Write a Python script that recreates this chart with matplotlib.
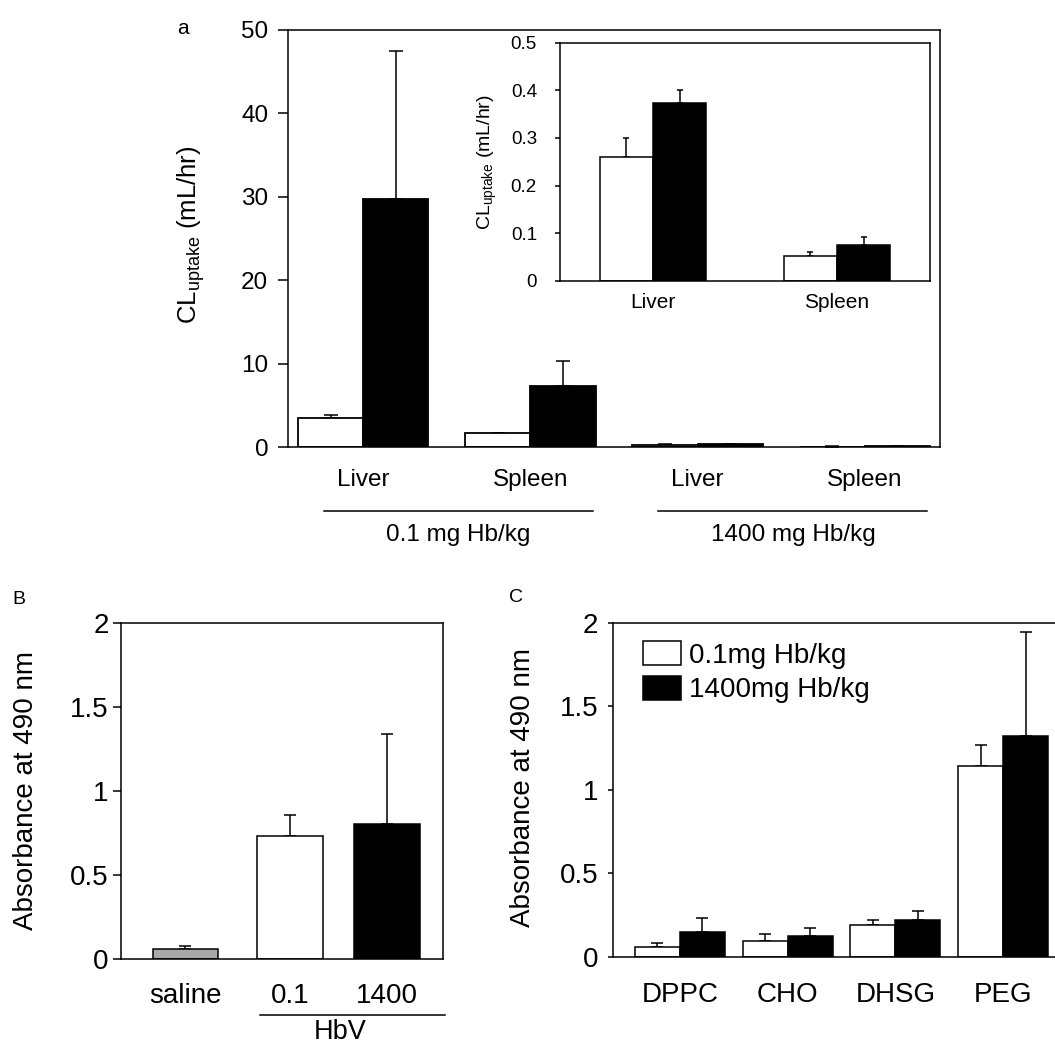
import matplotlib
matplotlib.use("Agg")
import matplotlib.pyplot as plt
import numpy as np
from matplotlib.transforms import blended_transform_factory

plt.rcParams["font.family"] = ["Liberation Sans", "DejaVu Sans"]

# panel a: CL uptake (mL/hr), white = first dose column, black = second
organs = ["Liver", "Spleen", "Liver", "Spleen"]
dose_groups = ["0.1 mg Hb/kg", "1400 mg Hb/kg"]
cl_white = [3.5, 1.68, 0.26, 0.052]
cl_white_sd = [0.3, 0.0, 0.04, 0.009]
cl_black = [29.7, 7.37, 0.374, 0.074]
cl_black_sd = [17.8, 2.93, 0.027, 0.018]

# panel B: absorbance at 490 nm
b_labels = ["saline", "0.1", "1400"]
b_group = "HbV"
b_values = [0.061, 0.734, 0.801]
b_sd = [0.018, 0.121, 0.538]

# panel C: absorbance at 490 nm per lipid component
lipids = ["DPPC", "CHO", "DHSG", "PEG"]
c_series = ["0.1mg Hb/kg", "1400mg Hb/kg"]
c_low = [0.061, 0.095, 0.191, 1.144]
c_low_sd = [0.024, 0.042, 0.026, 0.122]
c_high = [0.147, 0.121, 0.221, 1.321]
c_high_sd = [0.086, 0.050, 0.050, 0.625]

W, H = 1055, 1047
fig = plt.figure(figsize=(W / 100, H / 100), dpi=100)


def px_axes(left, top, right, bottom):
    return fig.add_axes([left / W, 1 - bottom / H, (right - left) / W, (bottom - top) / H])


def up_err(ax, x, vals, sd, cap):
    ax.errorbar(x, vals, yerr=[np.zeros(len(vals)), sd], fmt="none",
                ecolor="black", elinewidth=1.1, capsize=cap, capthick=1.1, zorder=1)


def style(ax, ylen, ypad, xpad, yfs, xfs):
    for s in ax.spines.values():
        s.set_linewidth(1.1)
    ax.tick_params(axis="y", direction="out", length=ylen, width=1.1, pad=ypad, labelsize=yfs)
    ax.tick_params(axis="x", length=0, pad=xpad, labelsize=xfs)


# ---- panel a
ax = px_axes(288, 30, 940, 447)
x = np.arange(len(organs))
w = 0.39
up_err(ax, x - w / 2, cl_white, cl_white_sd, 4.7)
up_err(ax, x + w / 2, cl_black, cl_black_sd, 4.7)
ax.bar(x - w / 2, cl_white, w, color="white", edgecolor="black", linewidth=1.3, zorder=2)
ax.bar(x + w / 2, cl_black, w, color="black", edgecolor="black", linewidth=1.3, zorder=2)
ax.set_xlim(-0.45, 3.45)
ax.set_ylim(0, 50)
ax.set_yticks(np.arange(0, 51, 10))
ax.set_xticks(x)
ax.set_xticklabels(organs)
style(ax, 7.2, 7, 16, 17.5, 17.5)
ax.set_ylabel(r"$\mathregular{CL_{uptake}}$ (mL/hr)", fontsize=18.5, va="center")
ax.yaxis.set_label_coords(-0.149, 0.508)
tr = blended_transform_factory(ax.transData, ax.transAxes)
for i, name in enumerate(dose_groups):
    x0, x1 = 2 * i - 0.235, 2 * i + 1 + 0.375
    ax.plot([x0, x1], [-0.154, -0.154], color="black", lw=1.1, transform=tr, clip_on=False)
    ax.text((x0 + x1) / 2, -0.211, name, transform=tr, ha="center", va="center", fontsize=17.5)
fig.text(183 / W, 1 - 29 / H, "a", ha="center", va="center", fontsize=15)

# inset: 1400 mg Hb/kg group enlarged
axi = px_axes(560, 42.7, 930, 280.7)
axi.set_facecolor("white")
xi = np.arange(2)
wi = 0.29
up_err(axi, xi - wi / 2, cl_white[2:], cl_white_sd[2:], 2.5)
up_err(axi, xi + wi / 2, cl_black[2:], cl_black_sd[2:], 2.5)
axi.bar(xi - wi / 2, cl_white[2:], wi, color="white", edgecolor="black", linewidth=1.1, zorder=2)
axi.bar(xi + wi / 2, cl_black[2:], wi, color="black", edgecolor="black", linewidth=1.1, zorder=2)
axi.set_xlim(-0.505, 1.505)
axi.set_ylim(0, 0.5)
axi.set_yticks([0, 0.1, 0.2, 0.3, 0.4, 0.5])
axi.set_yticklabels(["0", "0.1", "0.2", "0.3", "0.4", "0.5"])
axi.set_xticks(xi)
axi.set_xticklabels(organs[2:])
style(axi, 3.6, 13, 8.5, 13.5, 15)
axi.set_ylabel(r"$\mathregular{CL_{uptake}}$ (mL/hr)", fontsize=14, va="center")
axi.yaxis.set_label_coords(-0.197, 0.499)

# ---- panel B
axb = px_axes(121, 623, 443, 959)
xb = np.array([0, 1, 1.93])
wb = 0.63
up_err(axb, xb, b_values, b_sd, 4.3)
axb.bar(xb, b_values, wb, color=["#a8a8a8", "white", "black"], edgecolor="black",
        linewidth=1.1, zorder=2)
axb.set_xlim(-0.617, 2.464)
axb.set_ylim(0, 2)
axb.set_yticks([0, 0.5, 1, 1.5, 2])
axb.set_yticklabels(["0", "0.5", "1", "1.5", "2"])
axb.set_xticks(xb)
axb.set_xticklabels(b_labels)
style(axb, 5.8, 3, 17, 20, 20)
axb.set_ylabel("Absorbance at 490 nm", fontsize=20, va="center")
axb.yaxis.set_label_coords(-0.295, 0.5)
trb = blended_transform_factory(axb.transData, axb.transAxes)
axb.plot([0.713, 2.483], [-0.167, -0.167], color="black", lw=1.1, transform=trb, clip_on=False)
axb.text(1.478, -0.238, b_group, transform=trb, ha="center", va="baseline", fontsize=19.5)
fig.text(19 / W, 1 - 599 / H, "B", ha="center", va="center", fontsize=14)

# ---- panel C (right edge runs off the figure, as in the source)
axc = px_axes(613, 622.7, 1070, 956.7)
xc = np.arange(len(lipids))
wc = 0.418
up_err(axc, xc - wc / 2, c_low, c_low_sd, 4.3)
up_err(axc, xc + wc / 2, c_high, c_high_sd, 4.3)
axc.bar(xc - wc / 2, c_low, wc, color="white", edgecolor="black", linewidth=1.1,
        zorder=2, label=c_series[0])
axc.bar(xc + wc / 2, c_high, wc, color="black", edgecolor="black", linewidth=1.1,
        zorder=2, label=c_series[1])
axc.set_xlim(-0.62, 3.62)
axc.set_ylim(0, 2)
axc.set_yticks([0, 0.5, 1, 1.5, 2])
axc.set_yticklabels(["0", "0.5", "1", "1.5", "2"])
axc.set_xticks(xc)
axc.set_xticklabels(lipids)
style(axc, 3.6, 7, 18, 20, 20)
axc.set_ylabel("Absorbance at 490 nm", fontsize=20, va="center")
axc.yaxis.set_label_coords(-0.197, 0.507)
axc.legend(loc="upper left", bbox_to_anchor=(0.0656, 0.945), frameon=False, fontsize=20,
           handlelength=1.37, handleheight=0.97, handletextpad=0.29, labelspacing=0.25,
           borderpad=0, borderaxespad=0)
fig.text(516 / W, 1 - 598 / H, "C", ha="center", va="center", fontsize=14)

fig.savefig("out.png", dpi=100)
